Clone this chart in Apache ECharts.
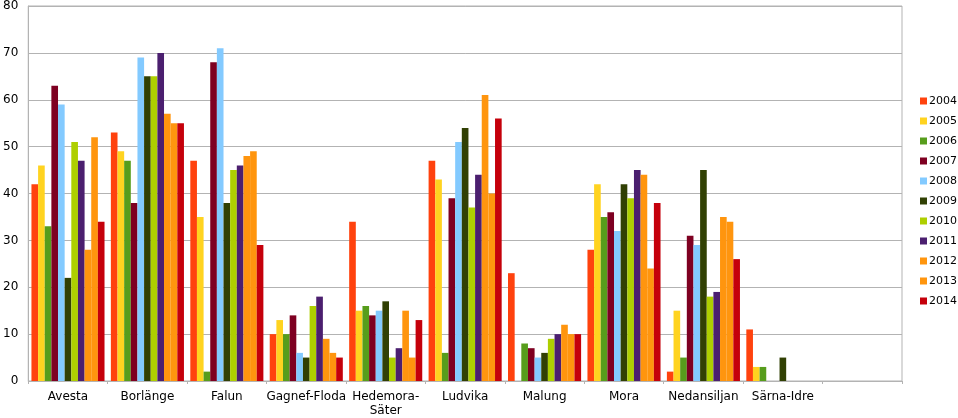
<!DOCTYPE html>
<html>
<head>
<meta charset="utf-8">
<script src="https://cdn.jsdelivr.net/npm/echarts@6/dist/echarts.min.js"></script>
<style>
  html, body { margin: 0; padding: 0; background: #fff; }
  #chart { width: 958px; height: 418px; }
</style>
</head>
<body>
<div id="chart"></div>
<script>
const categories = ["Avesta", "Borlänge", "Falun", "Gagnef-Floda", "Hedemora-\nSäter", "Ludvika", "Malung", "Mora", "Nedansiljan", "Särna-Idre", ""];
const years = ["2004", "2005", "2006", "2007", "2008", "2009", "2010", "2011", "2012", "2013", "2014"];
const colors = ["#ff420e", "#ffd320", "#579d1c", "#7e0021", "#83caff", "#314004", "#aecf00", "#4b1f6f", "#ff950e", "#ff950e", "#c5000b"];
const yTicks = [0, 10, 20, 30, 40, 50, 60, 70, 80];

// one array per year, in category order
const v2004 = [42, 53, 47, 10, 34, 47, 23, 28, 2, 11, "-"];
const v2005 = [46, 49, 35, 13, 15, 43, 0, 42, 15, 3, "-"];
const v2006 = [33, 47, 2, 10, 16, 6, 8, 35, 5, 3, "-"];
const v2007 = [63, 38, 68, 14, 14, 39, 7, 36, 31, "-", "-"];
const v2008 = [59, 69, 71, 6, 15, 51, 5, 32, 29, "-", "-"];
const v2009 = [22, 65, 38, 5, 17, 54, 6, 42, 45, 5, "-"];
const v2010 = [51, 65, 45, 16, 5, 37, 9, 39, 18, "-", "-"];
const v2011 = [47, 70, 46, 18, 7, 44, 10, 45, 19, "-", "-"];
const v2012 = [28, 57, 48, 9, 15, 61, 12, 44, 35, "-", "-"];
const v2013 = [52, 55, 49, 6, 5, 40, 10, 24, 34, "-", "-"];
const v2014 = [34, 55, 29, 5, 13, 56, 10, 38, 26, "-", "-"];

const values = [v2004, v2005, v2006, v2007, v2008, v2009, v2010, v2011, v2012, v2013, v2014];

const gridColor = "#b3b3b3";
const font = "DejaVu Sans";

let chart = echarts.init(document.getElementById("chart"), null, { renderer: "canvas" });

let series = years.map((y, i) => ({
  name: y,
  type: "bar",
  data: values[i],
  itemStyle: { color: colors[i] },
  barGap: "0%",
  barCategoryGap: "8%"
}));

let option = {
  animation: false,
  grid: {
    left: 27,
    right: 56,
    top: 5,
    bottom: 33,
    show: true,
    borderColor: gridColor,
    borderWidth: 1
  },
  legend: {
    orient: "vertical",
    left: 915,
    top: 89,
    itemWidth: 7,
    itemHeight: 7,
    itemGap: 6,
    icon: "rect",
    data: years,
    textStyle: { fontFamily: font, fontSize: 11, color: "#000", lineHeight: 14, padding: [0, 0, 0, -3] }
  },
  xAxis: {
    type: "category",
    data: categories,
    axisLine: { lineStyle: { color: gridColor } },
    axisTick: { show: true, length: 3, lineStyle: { color: gridColor } },
    axisLabel: { fontFamily: font, fontSize: 12, color: "#000", margin: 9, lineHeight: 14, interval: 0 }
  },
  yAxis: {
    type: "value",
    min: yTicks[0],
    max: yTicks[yTicks.length - 1],
    interval: 10,
    axisLine: { show: true, lineStyle: { color: gridColor } },
    axisTick: { show: false },
    splitLine: { lineStyle: { color: gridColor } },
    axisLabel: { fontFamily: font, fontSize: 12, color: "#000", margin: 10 }
  },
  series: series
};

chart.setOption(option);
</script>
</body>
</html>
